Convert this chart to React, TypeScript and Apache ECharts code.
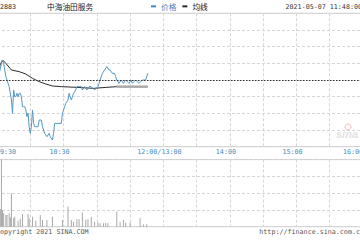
import React, { useEffect, useRef } from "react";
import * as echarts from "echarts";

const stockCode = "02883";
const stockName = "中海油田服务";
const timestamp = "2021-05-07 11:48:00";
const copyrightText = "Copyright 2021 SINA.COM";
const urlText = "http://finance.sina.com.cn";
const preClose = 6.6;

// x: trading minutes since 09:30 (lunch break removed)
const xTickValues = [0, 60, 150, 210, 270, 330];
const xTickLabels = ["09:30", "10:30", "12:00/13:00", "14:00", "15:00", "16:00"];

const priceMinutes = [0, 2, 4, 5, 6, 7, 8, 10, 11, 13, 14, 15, 16, 17, 18, 19, 20, 21, 22, 23, 24, 25, 26, 27, 28, 29, 30, 31, 32, 33, 34, 35, 37, 38, 40, 41, 43, 45, 47, 48, 50, 51, 52, 55, 58, 59, 61, 62, 64, 65, 67, 68, 69, 71, 72, 74, 76, 77, 79, 81, 83, 85, 88, 91, 92, 93, 95, 97, 99, 101, 102, 104, 106, 107, 108, 110, 112, 114, 116, 119, 121, 122, 125, 128, 131, 134, 136];
const priceValues = [6.61, 6.62, 6.65, 6.66, 6.65, 6.63, 6.61, 6.59, 6.58, 6.54, 6.5, 6.57, 6.55, 6.55, 6.56, 6.55, 6.56, 6.56, 6.55, 6.52, 6.52, 6.52, 6.51, 6.49, 6.5, 6.46, 6.44, 6.46, 6.51, 6.47, 6.46, 6.46, 6.46, 6.48, 6.48, 6.46, 6.44, 6.43, 6.44, 6.43, 6.42, 6.44, 6.47, 6.47, 6.47, 6.5, 6.52, 6.53, 6.54, 6.56, 6.54, 6.55, 6.56, 6.57, 6.58, 6.58, 6.58, 6.57, 6.58, 6.57, 6.58, 6.58, 6.57, 6.58, 6.59, 6.6, 6.62, 6.63, 6.64, 6.63, 6.63, 6.62, 6.62, 6.61, 6.6, 6.59, 6.6, 6.59, 6.6, 6.59, 6.6, 6.59, 6.6, 6.59, 6.6, 6.6, 6.62];

const avgMinutes = [0, 2, 5, 8, 13, 20, 26, 32, 38, 44, 50, 58, 72, 87, 99, 108];
const avgValues = [6.62, 6.64, 6.66, 6.65, 6.63, 6.625, 6.618, 6.605, 6.595, 6.588, 6.582, 6.58, 6.578, 6.575, 6.578, 6.58];
const avgTailMinutes = [108, 136];
const avgTailValues = [6.58, 6.58];

// volume in 万股
const volMinutes = [3, 4, 5, 6, 8, 9, 11, 12, 13, 15, 16, 19, 21, 23, 28, 29, 32, 35, 39, 41, 45, 50, 59, 64, 67, 69, 72, 74, 77, 80, 82, 85, 88, 91, 93, 96, 98, 100, 108, 111, 114, 116, 120, 129, 132, 135];
const volValues = [106, 400, 100, 80, 70, 70, 80, 55, 200, 50, 60, 35, 48, 76, 76, 50, 60, 35, 70, 40, 40, 60, 40, 120, 40, 30, 45, 45, 84, 40, 45, 60, 30, 25, 20, 20, 22, 20, 90, 30, 40, 25, 25, 50, 15, 15];

const mono = "DejaVu Sans Mono";
const cjk = "Noto Sans CJK SC";

// the chart canvas extends OFF px beyond the visible window on each side
const OFF = 20;

export default function App() {
  const ref = useRef<HTMLDivElement>(null);
  useEffect(() => {
    if (!ref.current) return;
    const chart = echarts.init(ref.current, null, { renderer: "svg" });
    const zip = (a: number[], b: number[]) => a.map((v, i) => [v, b[i]]);
    const gridLine = { show: true, lineStyle: { color: "#d6d6d6", type: [3, 2] as any, width: 1 } };
    const lastIdx = xTickValues.length - 1;
    const labelFont = { color: "#3a8ab8", fontFamily: mono, fontSize: 6.7 };
    chart.setOption({
      animation: false,
      backgroundColor: "#fff",
      title: [
        { text: stockCode, left: OFF - 4, top: 3, padding: 0, textStyle: { fontFamily: mono, fontSize: 6.7, color: "#222", fontWeight: "normal" } },
        { text: stockName, left: OFF + 47, top: 2.5, padding: 0, textStyle: { fontFamily: cjk, fontSize: 7.7, color: "#222", fontWeight: "normal" } },
        { text: timestamp, right: OFF - 2, top: 3, padding: 0, textStyle: { fontFamily: mono, fontSize: 6.7, color: "#333", fontWeight: "normal" } },
        { text: copyrightText, left: OFF - 4, top: 228.5, padding: 0, textStyle: { fontFamily: mono, fontSize: 6.7, color: "#555", fontWeight: "normal" } },
        { text: urlText, right: OFF - 4, top: 228.5, padding: 0, textStyle: { fontFamily: mono, fontSize: 6.7, color: "#555", fontWeight: "normal" } },
      ],
      legend: {
        data: [
          { name: "价格", textStyle: { color: "#3f86c0" } },
          { name: "均线", textStyle: { color: "#111" } },
        ],
        left: OFF + 151,
        top: 2.5,
        padding: 0,
        icon: "rect",
        itemWidth: 5,
        itemHeight: 2,
        itemGap: 6,
        selectedMode: false,
        textStyle: { fontFamily: cjk, fontSize: 7.7 },
      },
      grid: [
        { left: OFF - 3, right: OFF - 3, top: 13.3, height: 133.4, show: true, borderColor: "#c8c8c8", borderWidth: 1 },
        { left: OFF - 3, right: OFF - 3, top: 159.6, height: 67.1, show: true, borderColor: "#c8c8c8", borderWidth: 1 },
      ],
      xAxis: [
        {
          type: "value", gridIndex: 0, min: 0, max: 330, interval: 30,
          axisLine: { show: false }, axisTick: { show: false },
          splitLine: gridLine,
          axisLabel: {
            show: true, margin: 1.5, ...labelFont,
            formatter: (v: number) => {
              const i = xTickValues.indexOf(v);
              if (i < 0) return "";
              if (i === 0) return "{a|" + xTickLabels[i] + "}";
              if (i === lastIdx) return "{z|" + xTickLabels[i] + "}";
              return "{m|" + xTickLabels[i] + "}";
            },
            rich: {
              a: { padding: [0, 0, 0, 18], ...labelFont },
              m: { padding: [0, 8, 0, 0], ...labelFont },
              z: { padding: [0, 20, 0, 0], ...labelFont },
            },
          },
        },
        {
          type: "value", gridIndex: 1, min: 0, max: 330, interval: 30,
          axisLine: { show: false }, axisTick: { show: false }, axisLabel: { show: false },
          splitLine: gridLine,
        },
      ],
      yAxis: [
        {
          type: "value", gridIndex: 0, min: 6.4, max: 6.8, interval: 0.05,
          axisLine: { show: false }, axisTick: { show: false }, axisLabel: { show: false },
          splitLine: gridLine,
        },
        {
          type: "value", gridIndex: 1, min: 0, max: 400, interval: 100,
          axisLine: { show: false }, axisTick: { show: false }, axisLabel: { show: false },
          splitLine: gridLine,
        },
      ],
      graphic: [
        { type: "text", left: OFF + 336, top: 128, style: { text: "sina", fill: "#e2e2e2", font: "italic bold 11px sans-serif" }, z: 0 },
        { type: "circle", shape: { cx: OFF + 348, cy: 127, r: 3 }, style: { fill: "none", stroke: "#f0b8b8", lineWidth: 1 }, z: 0 },
      ],
      series: [
        {
          name: "成交量", type: "bar", xAxisIndex: 1, yAxisIndex: 1,
          data: zip(volMinutes, volValues), barWidth: 1, itemStyle: { color: "#a8a8a8" },
        },
        {
          name: "均线尾", type: "line", xAxisIndex: 0, yAxisIndex: 0,
          data: zip(avgTailMinutes, avgTailValues), showSymbol: false,
          lineStyle: { color: "#aaaaaa", width: 2.5 }, itemStyle: { color: "#aaaaaa" },
        },
        {
          name: "均线", type: "line", xAxisIndex: 0, yAxisIndex: 0,
          data: zip(avgMinutes, avgValues), showSymbol: false,
          lineStyle: { color: "#2a2a2a", width: 1 }, itemStyle: { color: "#2a2a2a" },
        },
        {
          name: "价格", type: "line", xAxisIndex: 0, yAxisIndex: 0,
          data: zip(priceMinutes, priceValues), showSymbol: false,
          lineStyle: { color: "#5397c0", width: 1 }, itemStyle: { color: "#3f86c0" },
          markLine: {
            silent: true, symbol: "none", label: { show: false },
            lineStyle: { color: "#333", type: [1.5, 1.5] as any, width: 1 },
            data: [{ yAxis: preClose }],
          },
        },
      ],
    });
    return () => chart.dispose();
  }, []);
  return (
    <div style={{ position: "absolute", left: 0, top: 0, width: 360, height: 240, overflow: "hidden", background: "#fff" }}>
      <div ref={ref} style={{ position: "absolute", left: -OFF, top: 0, width: 360 + 2 * OFF, height: 240 }} />
    </div>
  );
}
